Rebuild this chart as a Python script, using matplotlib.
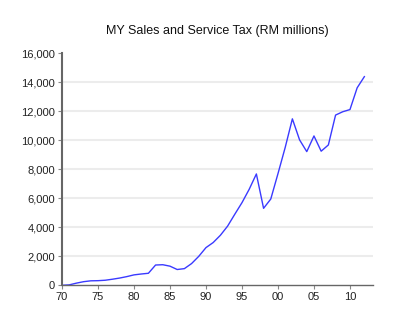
import matplotlib
matplotlib.use('Agg')
import matplotlib.pyplot as plt
from matplotlib.ticker import FuncFormatter

plt.rcParams['font.family'] = ['Liberation Sans', 'DejaVu Sans']

years = list(range(1970, 2013))
sst = [0, 30, 150, 250, 310, 320, 350, 420, 500, 600,
       720, 780, 830, 1400, 1420, 1320, 1090, 1150, 1500, 2000,
       2600, 2950, 3450, 4080, 4900, 5700, 6620, 7680, 5310, 5950,
       7700, 9500, 11480, 10030, 9220, 10300, 9250, 9680, 11740, 11970,
       12120, 13620, 14390]

xticks = [1970, 1975, 1980, 1985, 1990, 1995, 2000, 2005, 2010]
yticks = list(range(0, 16001, 2000))

fig = plt.figure(figsize=(4, 3.24), dpi=100)
ax = fig.add_axes([0.155, 0.1194, 0.7775, 0.7161])

for y in yticks[1:-1]:
    ax.axhline(y, color='#ececec', lw=1.5, zorder=0)

ax.plot(years, sst, color='#3a3aff', lw=1.0)

ax.set_xlim(1970, 2013.2)
ax.set_ylim(0, 16000)
ax.set_xticks(xticks)
ax.set_yticks(yticks)
ax.xaxis.set_major_formatter(FuncFormatter(lambda v, p: '%02d' % (int(v) % 100)))
ax.yaxis.set_major_formatter(FuncFormatter(lambda v, p: '{:,.0f}'.format(v)))

for s in ['top', 'right']:
    ax.spines[s].set_visible(False)
ax.spines['left'].set_color('#666666')
ax.spines['left'].set_linewidth(1.5)
ax.spines['bottom'].set_color('#666666')
ax.spines['bottom'].set_linewidth(1.0)
ax.tick_params(axis='both', colors='#888888', labelcolor='#222222', labelsize=8,
               length=3, width=0.8, pad=2)

ax.set_title('MY Sales and Service Tax (RM millions)', fontsize=9, pad=14, color='#111111')

fig.savefig('out.png', dpi=100)
